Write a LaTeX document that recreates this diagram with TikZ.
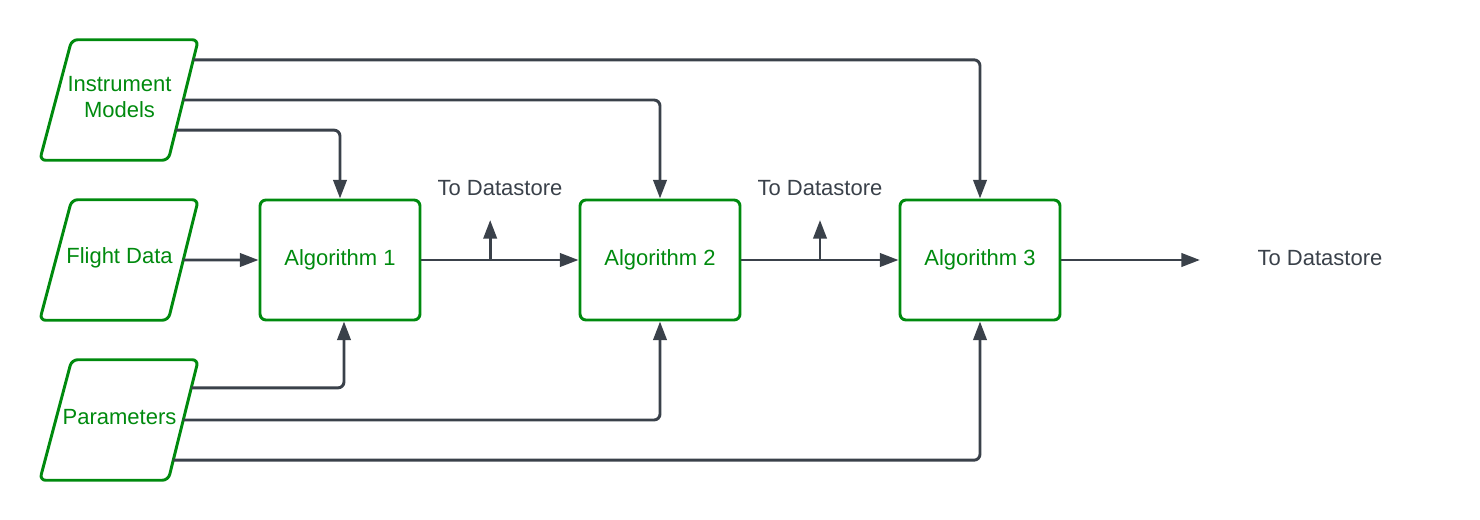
\documentclass[tikz,border=0pt]{standalone}
\usepackage{fontspec}
\setmainfont{Liberation Sans}
\usetikzlibrary{arrows.meta,calc}
\definecolor{lgreen}{RGB}{0,138,14}
\definecolor{lgray}{RGB}{58,65,74}
\begin{document}
\begin{tikzpicture}[x=0.75pt,y=-0.75pt,
  font=\fontsize{16.5}{19.5}\selectfont,
  algbox/.style={draw=lgreen, line width=2.2pt, rounded corners=4.5pt,
    minimum width=120pt, minimum height=90pt, text=lgreen, inner sep=0pt},
  iobox/.style={minimum width=95.25pt, minimum height=90pt, text=lgreen,
    align=center, inner sep=0pt},
  ioframe/.style={draw=lgreen, line width=2.2pt, rounded corners=4.5pt},
  conn/.style={draw=lgray, line width=2.2pt, rounded corners=4.5pt,
    -{Triangle[length=14pt,width=10pt]}},
  lbl/.style={text=lgray}]
\useasboundingbox (0,0) rectangle (1480,520);

\node[iobox] (im) at (119.5,97) {Instrument\\Models};
\node[iobox] (fd) at (119.5,257.5) {Flight Data};
\node[iobox] (pa) at (119.5,417) {Parameters};

\foreach \n/\d in {im/3,fd/2.5,pa/3}{
  \coordinate (\n-tl) at ($(\n.north west)+(16,\d)$);
  \coordinate (\n-tr) at ($(\n.north east)+(15,\d)$);
  \coordinate (\n-br) at ($(\n.south east)+(-15,\d)$);
  \coordinate (\n-bl) at ($(\n.south west)+(-16,\d)$);
  \draw[ioframe] (\n-tl) -- (\n-tr) -- (\n-br) -- (\n-bl) -- cycle;
}

\node[algbox] (a1) at (340,260) {Algorithm 1};
\node[algbox] (a2) at (660,260) {Algorithm 2};
\node[algbox] (a3) at (980,260) {Algorithm 3};

\node[lbl] (l1) at (500,188) {To Datastore};
\node[lbl] (l2) at (820,188) {To Datastore};
\node[lbl] (l3) at (1320,258) {To Datastore};

% instrument models
\draw[conn] ($(im-tr)!0.1667!(im-br)$) -| (a3.north);
\draw[conn] ($(im-tr)!0.5!(im-br)$) -| (a2.north);
\draw[conn] ($(im-tr)!0.75!(im-br)$) -| (a1.north);

% flight data
\draw[conn] ($(fd-tr)!0.5!(fd-br)$) -- (a1.west);

% parameters
\draw[conn] ($(pa-tr)!0.2333!(pa-br)$) -| ([xshift=3pt]a1.south);
\draw[conn] ($(pa-tr)!0.5!(pa-br)$) -| (a2.south);
\draw[conn] ($(pa-tr)!0.8333!(pa-br)$) -| (a3.south);

% chain
\draw[conn] (a1.east) -- (a2.west);
\draw[conn] (a2.east) -- (a3.west);
\coordinate (b1) at ($(a1.east)!0.4375!(a2.west)$);
\coordinate (b2) at ($(a2.east)!0.5!(a3.west)$);
\coordinate (t1) at ($(b1)+(0,-40)$);
\coordinate (t2) at ($(b2)+(0,-40)$);
\draw[conn] (b1) -- (t1);
\draw[conn] (b2) -- (t2);
\coordinate (e3) at (1200,260);
\draw[conn] (a3.east) -- (e3);
\end{tikzpicture}
\end{document}
